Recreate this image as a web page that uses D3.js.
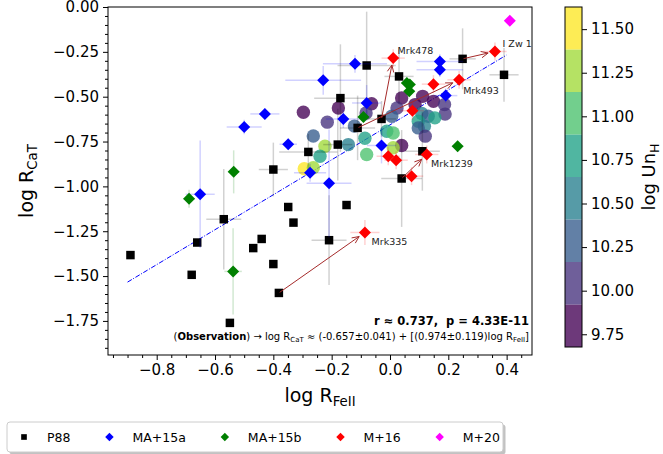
<!DOCTYPE html>
<html>
<head>
<meta charset="utf-8">
<script src="https://cdn.jsdelivr.net/npm/d3@7"></script>
<style>
  body { margin: 0; background: #fff; }
  text { font-family: "DejaVu Sans", sans-serif; }
</style>
</head>
<body>
<div id="chart"></div>
<script>
// ---- data: [log R_FeII, log R_CaT, xerr, yerr] ----
const p88 = [
  [-0.890, -1.383, 0, 0], [-0.680, -1.493, 0, 0], [-0.661, -1.313, 0, 0],
  [-0.570, -1.183, 0.06, 0.28], [-0.549, -1.761, 0, 0], [-0.469, -1.344, 0, 0],
  [-0.440, -1.293, 0, 0], [-0.400, -0.906, 0.05, 0.15], [-0.400, -1.433, 0, 0],
  [-0.381, -1.594, 0, 0], [-0.349, -1.115, 0, 0], [-0.331, -1.202, 0, 0],
  [-0.280, -0.808, 0.10, 0.10], [-0.179, -0.767, 0.05, 0.20], [-0.149, -1.104, 0, 0],
  [-0.209, -1.300, 0.06, 0.25], [0.040, -0.956, 0.07, 0.27], [0.111, -0.804, 0.06, 0.22],
  [-0.080, -0.326, 0.10, 0.30], [-0.170, -0.508, 0.09, 0.30], [-0.111, -0.674, 0.06, 0.18],
  [-0.029, -0.624, 0.05, 0.10], [0.031, -0.387, 0.05, 0.15], [0.249, -0.289, 0.045, 0.17],
  [0.391, -0.378, 0.05, 0.15]
];
const ma15a = [
  [-0.651, -1.044, 0.05, 0.30], [-0.500, -0.669, 0.06, 0.04], [-0.429, -0.596, 0.05, 0.03],
  [-0.349, -0.765, 0.03, 0.03], [-0.274, -0.924, 0.055, 0.05], [-0.209, -0.983, 0.077, 0.30],
  [-0.029, -0.772, 0.05, 0.10], [-0.229, -0.409, 0.13, 0.08], [-0.120, -0.317, 0.11, 0.05],
  [-0.080, -0.535, 0.05, 0.10], [-0.160, -0.624, 0.06, 0.05], [0.171, -0.304, 0.08, 0.04],
  [0.171, -0.350, 0.08, 0.04], [0.191, -0.494, 0.04, 0.04]
];
const ma15b = [
  [-0.689, -1.069, 0.02, 0.05], [-0.536, -0.919, 0.02, 0.12], [-0.538, -1.474, 0.03, 0.24],
  [-0.091, -0.613, 0.02, 0.03], [0.058, -0.424, 0.02, 0.03], [0.068, -0.432, 0.02, 0.03],
  [0.066, -0.470, 0.02, 0.03], [0.232, -0.776, 0.02, 0.03]
];
const m16 = [
  [0.011, -0.285, 0.04, 0.05], [0.149, -0.430, 0.04, 0.05], [0.237, -0.406, 0.04, 0.05],
  [0.360, -0.248, 0.04, 0.05], [0.077, -0.578, 0.04, 0.05], [-0.006, -0.832, 0.04, 0.05],
  [0.021, -0.854, 0.04, 0.05], [0.126, -0.822, 0.04, 0.05], [0.074, -0.943, 0.04, 0.05],
  [-0.086, -1.257, 0.05, 0.07]
];
const m20 = [[0.411, -0.076, 0, 0]];

// model grid: [log R_FeII, log R_CaT, log UnH]
const models = [
  [-0.297, -0.587, 9.80], [-0.177, -0.563, 9.80], [-0.215, -0.642, 10.04], [-0.263, -0.719, 10.29],
  [-0.223, -0.776, 11.26], [-0.143, -0.767, 10.53], [-0.122, -0.664, 10.29], [-0.086, -0.732, 10.77],
  [-0.063, -0.539, 9.80], [-0.082, -0.591, 10.04], [-0.011, -0.693, 10.77], [-0.294, -0.902, 11.50],
  [-0.263, -0.896, 11.26], [-0.240, -0.832, 10.77], [-0.080, -0.822, 11.02], [0.040, -0.507, 9.80],
  [0.024, -0.563, 10.04], [0.006, -0.609, 10.29], [0.011, -0.702, 11.02], [0.040, -0.772, 9.80],
  [0.011, -0.785, 11.26], [0.086, -0.544, 9.80], [0.112, -0.498, 9.80], [0.149, -0.526, 9.80],
  [0.187, -0.544, 10.04], [0.189, -0.597, 10.04], [0.109, -0.594, 10.53], [0.131, -0.609, 10.29],
  [0.154, -0.618, 10.77], [0.097, -0.637, 10.77], [0.118, -0.665, 10.53], [0.097, -0.674, 10.29],
  [0.121, -0.720, 10.04]
];

// annotated sources: arrow from P88 value to M+16 value, label anchor
const arrows = [
  { name: "Mrk478",  from: [-0.029, -0.624], to: [0.011, -0.285],  label: [0.026, -0.264] },
  { name: "Mrk493",  from: [-0.111, -0.674], to: [0.237, -0.406],  label: [0.251, -0.483] },
  { name: "I Zw 1",  from: [0.249, -0.289],  to: [0.360, -0.248],  label: [0.386, -0.222] },
  { name: "Mrk1239", from: [0.040, -0.956],  to: [0.126, -0.822],  label: [0.141, -0.894] },
  { name: "Mrk335",  from: [-0.381, -1.594], to: [-0.086, -1.257], label: [-0.063, -1.328] }
];

const fitIntercept = -0.657, fitSlope = 0.974;
const fitRange = [-0.90, 0.40];

const xTicks = [-0.8, -0.6, -0.4, -0.2, 0.0, 0.2, 0.4];
const yTicks = [-1.75, -1.5, -1.25, -1.0, -0.75, -0.5, -0.25, 0.0];
const cbTicks = [9.75, 10.0, 10.25, 10.5, 10.75, 11.0, 11.25, 11.5];
const cbDomain = [9.677, 11.627];
const cbBins = 8;

const seriesNames = ["P88", "MA+15a", "MA+15b", "M+16", "M+20"];
const seriesColors = ["black", "blue", "green", "red", "magenta"];

// ---- layout ----
const W = 663, H = 454;
const m = { left: 108, right: 532, top: 7, bottom: 355 };

const svg = d3.select("#chart").append("svg")
  .attr("width", W).attr("height", H);

svg.append("rect").attr("width", W).attr("height", H).attr("fill", "white");

const x = d3.scaleLinear().domain([-0.967, 0.487]).range([m.left, m.right]);
const y = d3.scaleLinear().domain([-1.94, 0]).range([m.bottom, m.top]);

const binW = (cbDomain[1] - cbDomain[0]) / cbBins;
function unhColor(v) {
  let i = Math.floor((v - cbDomain[0]) / binW);
  i = Math.max(0, Math.min(cbBins - 1, i));
  return d3.interpolateViridis(i / (cbBins - 1));
}

function richText(sel, parts, size) {
  const t = sel.append("text").attr("font-size", size);
  let shifted = false;
  parts.forEach(p => {
    const s = t.append("tspan").text(p.t);
    if (p.bold) s.attr("font-weight", "bold");
    if (p.sub) {
      s.attr("font-size", size * 0.7).attr("dy", size * 0.22);
      shifted = true;
    } else if (shifted) {
      s.attr("dy", -size * 0.22);
      shifted = false;
    }
  });
  return t;
}

svg.append("clipPath").attr("id", "clip")
  .append("rect").attr("x", m.left).attr("y", m.top)
  .attr("width", m.right - m.left).attr("height", m.bottom - m.top);

const plotG = svg.append("g").attr("clip-path", "url(#clip)");

// regression line
plotG.append("line")
  .attr("x1", x(fitRange[0])).attr("y1", y(fitIntercept + fitSlope * fitRange[0]))
  .attr("x2", x(fitRange[1])).attr("y2", y(fitIntercept + fitSlope * fitRange[1]))
  .attr("stroke", "blue").attr("stroke-width", 1)
  .attr("stroke-dasharray", "5,1.6,1,1.6");

// model circles
plotG.selectAll("circle.model").data(models).enter().append("circle")
  .attr("class", "model")
  .attr("cx", d => x(d[0])).attr("cy", d => y(d[1]))
  .attr("r", 6.7)
  .attr("fill", d => unhColor(d[2]))
  .attr("fill-opacity", 0.78);

const square = d3.symbol().type(d3.symbolSquare).size(72);
const diamond = d3.symbol().type(d3.symbolSquare).size(72);

function drawSeries(data, color, shape) {
  const g = plotG.append("g");
  data.forEach(d => {
    if (d[2] > 0) g.append("line")
      .attr("x1", x(d[0] - d[2])).attr("x2", x(d[0] + d[2]))
      .attr("y1", y(d[1])).attr("y2", y(d[1]))
      .attr("stroke", color).attr("stroke-opacity", 0.18).attr("stroke-width", 1.5);
    if (d[3] > 0) g.append("line")
      .attr("x1", x(d[0])).attr("x2", x(d[0]))
      .attr("y1", y(d[1] - d[3])).attr("y2", y(d[1] + d[3]))
      .attr("stroke", color).attr("stroke-opacity", 0.18).attr("stroke-width", 1.5);
  });
  g.selectAll("path").data(data).enter().append("path")
    .attr("d", shape === "s" ? square : diamond)
    .attr("transform", d => `translate(${x(d[0])},${y(d[1])})` + (shape === "s" ? "" : " rotate(45)"))
    .attr("fill", color);
}

drawSeries(p88, "black", "s");
drawSeries(ma15a, "blue", "d");
drawSeries(ma15b, "green", "d");
drawSeries(m16, "red", "d");
drawSeries(m20, "magenta", "d");

// arrows + labels
const arrowColor = "#a52a2a";
arrows.forEach(a => {
  const x0 = x(a.from[0]), y0 = y(a.from[1]);
  const x1 = x(a.to[0]), y1 = y(a.to[1]);
  const len = Math.hypot(x1 - x0, y1 - y0);
  const ux = (x1 - x0) / len, uy = (y1 - y0) / len;
  const ex = x1 - ux * 7, ey = y1 - uy * 7;
  const sx = x0 + ux * 1, sy = y0 + uy * 1;
  const hl = 7, hw = 3.2;
  const px = -uy, py = ux;
  plotG.append("path")
    .attr("d", `M${sx},${sy}L${ex},${ey}` +
      `M${ex - ux * hl + px * hw},${ey - uy * hl + py * hw}L${ex},${ey}` +
      `L${ex - ux * hl - px * hw},${ey - uy * hl - py * hw}`)
    .attr("fill", "none").attr("stroke", arrowColor).attr("stroke-width", 1);
  plotG.append("text")
    .attr("x", x(a.label[0])).attr("y", y(a.label[1]))
    .attr("font-size", 9.5).attr("fill", "#222")
    .text(a.name);
});

// stats text
svg.append("text")
  .attr("x", 529).attr("y", 325)
  .attr("text-anchor", "end").attr("font-size", 11.5).attr("font-weight", "bold")
  .text("r \u2248 0.737,\u00a0 p = 4.33E-11");

richText(svg, [
  { t: "(" }, { t: "Observation", bold: true },
  { t: ") \u2192 log R" }, { t: "CaT", sub: true },
  { t: " \u2248 (-0.657\u00b10.041) + [(0.974\u00b10.119)log R" }, { t: "FeII", sub: true },
  { t: "]" }
], 10).attr("x", 529).attr("y", 340).attr("text-anchor", "end");

// axes
function minor(lo, hi) {
  const out = [];
  for (let i = Math.ceil(lo / 0.05); i * 0.05 <= hi; i++) out.push(+(i * 0.05).toFixed(2));
  return out;
}
const xMinor = minor(-0.967, 0.487).filter(v => !xTicks.some(t => Math.abs(t - v) < 1e-6));
const yMinor = minor(-1.94, 0).filter(v => !yTicks.some(t => Math.abs(t - v) < 1e-6));

const xAxisG = svg.append("g").attr("transform", `translate(0,${m.bottom})`);
xAxisG.call(d3.axisBottom(x).tickValues(xMinor).tickSize(3).tickFormat(""))
  .call(g => g.select(".domain").remove());
xAxisG.append("g").call(d3.axisBottom(x).tickValues(xTicks).tickSize(5).tickPadding(4)
    .tickFormat(d3.format(".1f")))
  .call(g => g.select(".domain").remove())
  .selectAll("text").attr("font-size", 15).attr("font-family", "DejaVu Sans").attr("fill", "black");

const yAxisG = svg.append("g").attr("transform", `translate(${m.left},0)`);
yAxisG.call(d3.axisLeft(y).tickValues(yMinor).tickSize(3).tickFormat(""))
  .call(g => g.select(".domain").remove());
yAxisG.append("g").call(d3.axisLeft(y).tickValues(yTicks).tickSize(5).tickPadding(4)
    .tickFormat(d3.format(".2f")))
  .call(g => g.select(".domain").remove())
  .selectAll("text").attr("font-size", 15).attr("font-family", "DejaVu Sans").attr("fill", "black");

svg.append("rect")
  .attr("x", m.left).attr("y", m.top)
  .attr("width", m.right - m.left).attr("height", m.bottom - m.top)
  .attr("fill", "none").attr("stroke", "black").attr("stroke-width", 1);

// axis labels
richText(svg, [{ t: "log R" }, { t: "FeII", sub: true }], 19)
  .attr("x", (m.left + m.right) / 2).attr("y", 402).attr("text-anchor", "middle");

richText(svg, [{ t: "log R" }, { t: "CaT", sub: true }], 19)
  .attr("text-anchor", "middle")
  .attr("transform", `translate(33,${(m.top + m.bottom) / 2}) rotate(-90)`);

// colorbar
const cb = { x: 565, w: 17, top: 7, bottom: 347 };
const cy = d3.scaleLinear().domain(cbDomain).range([cb.bottom, cb.top]);
const cbG = svg.append("g");
d3.range(cbBins).forEach(i => {
  const lo = cbDomain[0] + i * binW, hi = lo + binW;
  cbG.append("rect")
    .attr("x", cb.x).attr("y", cy(hi)).attr("width", cb.w).attr("height", cy(lo) - cy(hi))
    .attr("fill", d3.interpolateViridis(i / (cbBins - 1))).attr("fill-opacity", 0.78);
});
cbG.append("rect").attr("x", cb.x).attr("y", cb.top).attr("width", cb.w)
  .attr("height", cb.bottom - cb.top).attr("fill", "none").attr("stroke", "black").attr("stroke-width", 1);
const cbAxis = svg.append("g").attr("transform", `translate(${cb.x + cb.w},0)`)
  .call(d3.axisRight(cy).tickValues(cbTicks).tickSize(5).tickPadding(4).tickFormat(d3.format(".2f")));
cbAxis.select(".domain").remove();
cbAxis.selectAll("text").attr("font-size", 15).attr("font-family", "DejaVu Sans").attr("fill", "black");

richText(svg, [{ t: "log Un" }, { t: "H", sub: true }], 18)
  .attr("text-anchor", "middle")
  .attr("transform", `translate(655,${(cb.top + cb.bottom) / 2}) rotate(-90)`);

// legend
const lg = { x: 7, y: 422, w: 496, h: 30 };
svg.append("rect").attr("x", lg.x + 2.5).attr("y", lg.y + 2.5).attr("width", lg.w).attr("height", lg.h)
  .attr("rx", 3).attr("fill", "#999").attr("fill-opacity", 0.6);
svg.append("rect").attr("x", lg.x).attr("y", lg.y).attr("width", lg.w).attr("height", lg.h)
  .attr("rx", 3).attr("fill", "white").attr("stroke", "#ccc").attr("stroke-width", 1);

const legSquare = d3.symbol().type(d3.symbolSquare).size(32);
const legDiamond = d3.symbol().type(d3.symbolSquare).size(36);
let lx = 24;
const ly = lg.y + lg.h / 2;
seriesNames.forEach((name, i) => {
  svg.append("path")
    .attr("d", i === 0 ? legSquare : legDiamond)
    .attr("transform", `translate(${lx},${ly})` + (i === 0 ? "" : " rotate(45)"))
    .attr("fill", seriesColors[i]);
  const t = svg.append("text").attr("x", lx + 23).attr("y", ly + 4.5)
    .attr("font-size", 12.5).text(name);
  lx += 23 + t.node().getComputedTextLength() + 39;
});
</script>
</body>
</html>
